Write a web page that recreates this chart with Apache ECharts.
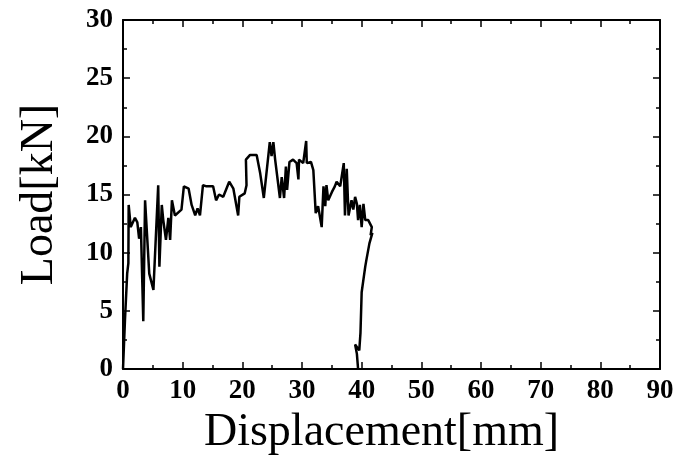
<!DOCTYPE html>
<html>
<head>
<meta charset="utf-8">
<script src="https://cdn.jsdelivr.net/npm/echarts@6/dist/echarts.min.js"></script>
<style>
  html, body { margin: 0; padding: 0; background: #fff; }
  #chart { width: 678px; height: 464px; }
</style>
</head>
<body>
<div id="chart"></div>
<script>
// displacement [mm] and load [kN] in drawing order
const displacement = [
  0, 0.33, 0.7, 0.9, 0.95, 1.3, 2.0, 2.4, 2.7, 3.0, 3.4, 3.7, 4.4, 5.1, 5.9, 6.1, 6.5, 6.75, 7.2, 7.6,
  7.9, 8.2, 8.7, 9.8, 10.2, 11.0, 11.5, 12.1, 12.5, 12.9, 13.4, 14.0, 15.1, 15.6, 16.1, 16.8, 17.8, 18.5, 19.3, 19.5,
  20.4, 20.7, 20.6, 21.3, 22.4, 23.0, 23.6, 24.6, 24.9, 25.2, 25.5, 26.3, 26.6, 27.0, 27.3, 27.5, 27.9, 28.5, 29.1, 29.4,
  29.5, 30.2, 30.7, 30.8, 31.5, 31.9, 32.3, 32.7, 33.3, 33.6, 33.9, 34.1, 34.4, 35.0, 35.5, 35.8, 36.4, 37.0, 37.2, 37.5,
  37.8, 38.3, 38.6, 38.9, 39.2, 39.4, 39.7, 40.0, 40.3, 40.6, 41.1, 41.7, 42.0, 41.5, 41.8, 41.3, 40.8, 40.6, 40.3, 40.0,
  39.9, 39.8, 39.6, 38.9, 39.2, 39.4
];
const load = [
  0, 4.2, 8.2, 9.1, 14.1, 12.2, 13.0, 12.6, 11.2, 12.2, 4.1, 14.5, 8.2, 6.8, 15.8, 8.8, 14.1, 12.8, 11.1, 13.0,
  11.1, 14.5, 13.2, 13.7, 15.7, 15.5, 14.1, 13.2, 13.8, 13.2, 15.8, 15.7, 15.7, 14.5, 15.0, 14.8, 16.1, 15.5, 13.2, 14.8,
  15.1, 15.8, 18.0, 18.4, 18.4, 16.8, 14.7, 19.5, 18.3, 19.5, 18.0, 14.7, 16.5, 14.7, 17.4, 15.4, 17.8, 18.0, 17.7, 16.3,
  18.0, 17.7, 19.6, 17.7, 17.8, 17.1, 13.4, 14.0, 12.2, 15.7, 14.0, 15.8, 14.5, 15.2, 15.7, 16.1, 15.7, 17.7, 13.2, 17.2,
  13.2, 14.5, 13.7, 14.8, 14.2, 12.8, 14.1, 12.2, 14.2, 12.8, 12.8, 12.2, 12.1, 11.5, 11.7, 10.8, 9.4, 8.8, 7.7, 6.6,
  6.6, 3.1, 1.6, 2.1, 1.3, 0
];
const xTicks = { min: 0, max: 90, interval: 10 };
const yTicks = { min: 0, max: 30, interval: 5 };

const chart = echarts.init(document.getElementById('chart'));

const labelFont = {
  fontFamily: 'Liberation Serif',
  fontWeight: 'bold',
  fontSize: 27,
  color: '#000',
};
const nameFont = {
  fontFamily: 'Liberation Serif',
  fontSize: 46,
  color: '#000',
};
const frameLine = { show: true, onZero: false, lineStyle: { color: '#000', width: 2 } };
const tick = { show: true, inside: true, length: 7, lineStyle: { color: '#000', width: 1.5 } };
const minor = { show: true, splitNumber: 2, length: 4, lineStyle: { color: '#000', width: 1.5 } };

const pairs = displacement.map((d, i) => [d, load[i]]);

chart.setOption({
  animation: false,
  backgroundColor: '#fff',
  grid: { left: 123, right: 18, top: 20, bottom: 95 },
  xAxis: [
    {
      type: 'value',
      position: 'bottom',
      ...xTicks,
      name: 'Displacement[mm]',
      nameLocation: 'middle',
      nameGap: 40,
      nameTextStyle: { ...nameFont, padding: [0, 20, 0, 0] },
      axisLine: frameLine,
      axisTick: tick,
      minorTick: minor,
      axisLabel: { ...labelFont, margin: 9 },
      splitLine: { show: false },
    },
    {
      type: 'value',
      position: 'top',
      ...xTicks,
      axisLine: frameLine,
      axisTick: tick,
      minorTick: minor,
      axisLabel: { show: false },
      splitLine: { show: false },
    },
  ],
  yAxis: [
    {
      type: 'value',
      position: 'left',
      ...yTicks,
      name: 'Load[kN]',
      nameLocation: 'middle',
      nameGap: 60,
      nameTextStyle: nameFont,
      axisLine: frameLine,
      axisTick: tick,
      minorTick: minor,
      axisLabel: { ...labelFont, margin: 10 },
      splitLine: { show: false },
    },
    {
      type: 'value',
      position: 'right',
      ...yTicks,
      axisLine: frameLine,
      axisTick: tick,
      minorTick: minor,
      axisLabel: { show: false },
      splitLine: { show: false },
    },
  ],
  series: [
    {
      type: 'line',
      data: pairs,
      showSymbol: false,
      lineStyle: { color: '#000', width: 2.5 },
      xAxisIndex: 0,
      yAxisIndex: 0,
    },
  ],
});
</script>
</body>
</html>
